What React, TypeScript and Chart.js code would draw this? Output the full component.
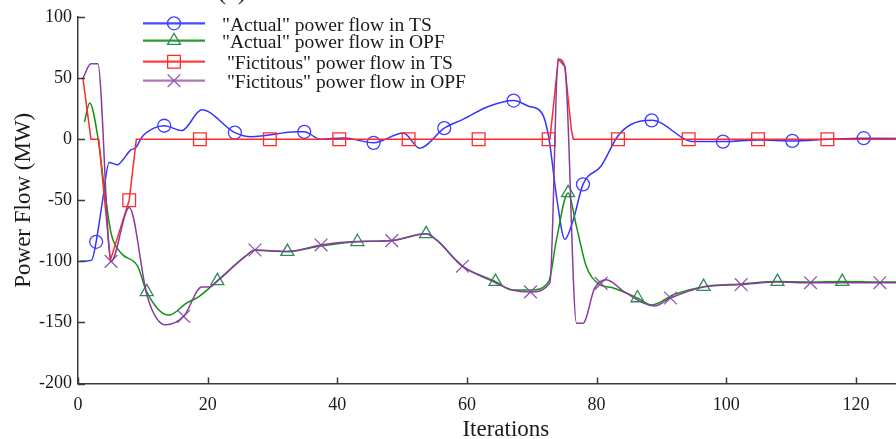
import React, { useEffect, useRef } from "react";
import { Chart, registerables } from "chart.js";

Chart.register(...registerables);

// ---------- data ----------
const xTickValues = [0, 20, 40, 60, 80, 100, 120];
const yTickValues = [-200, -150, -100, -50, 0, 50, 100];
const xTitle = "Iterations";
const yTitle = "Power Flow (MW)";
const seriesLabels = [
  "\"Actual\" power flow in TS",
  "\"Actual\" power flow in OPF",
  " \"Fictitous\" power flow in TS",
  " \"Fictitous\" power flow in OPF",
];

// "Actual" power flow in TS (blue)
const actualTsX = [0.3, 2.1, 2.8, 3.8, 4.8, 6.1, 6.9, 8.1, 8.9, 9.9, 11.7, 13.3, 16.0, 19.1, 24.2, 26.7, 33.9, 34.9, 37.4, 41.0, 45.6, 50.2, 52.7, 56.5, 59.3, 63.4, 67.2, 69.5, 71.6, 72.6, 73.9, 75.1, 76.4, 77.9, 80.7, 83.2, 85.3, 88.5, 95.0, 99.5, 105.1, 110.2, 115.8, 121.2, 132];
const actualTsY = [-100, -99, -84, -50, -19, -21, -17, -9, -7, 2, 9, 11, 7, 24, 5.4, 2, 6, 6, 0, 1, -3, 5, -7.4, 9, 16, 27, 31.6, 27, 21, 2, -50, -82, -66, -37, -22, 2, 12, 15.4, -2, -2, -0.6, -1.4, 0, 0.8, 0.3];
const actualTsMarkX = [2.8, 13.3, 24.2, 34.9, 45.6, 56.5, 67.2, 77.9, 88.5, 99.5, 110.2, 121.2];
const actualTsMarkY = [-84, 11, 5.4, 6, -3, 9, 31.6, -37, 15.4, -2, -1.4, 0.8];

// "Actual" power flow in OPF (green)
const actualOpfX = [1.0, 1.8, 3.05, 4.1, 5.1, 6.6, 9.2, 10.6, 14.0, 16.8, 18.6, 21.5, 25.8, 27.3, 32.3, 37.4, 43.1, 48.4, 53.7, 55.3, 59.3, 64.4, 67.0, 69.8, 72.6, 73.8, 75.6, 76.9, 78.4, 80.2, 82.7, 86.3, 88.5, 92.0, 96.5, 102.3, 107.9, 113.0, 117.9, 123.7, 132];
const actualOpfY = [14, 29.7, 2, -41.5, -77, -93, -104, -125, -144, -134, -129, -116, -96, -91, -92, -87.5, -84, -83, -77.5, -82.5, -104, -116.6, -123.5, -123.5, -116.6, -82.5, -44, -71.6, -104, -118, -122, -130, -135.7, -127, -120.7, -118.5, -116.6, -117, -116.6, -117, -117];
const actualOpfMarkX = [10.6, 21.5, 32.3, 43.1, 53.7, 64.4, 75.6, 86.3, 96.5, 107.9, 117.9];
const actualOpfMarkY = [-125, -116, -92, -84, -77.5, -116.6, -44, -130, -120.7, -116.6, -116.6];

// "Fictitous" power flow in TS (red)
const fictTsX = [0.76, 2.0, 3.2, 5.0, 7.9, 9.0, 72.8, 74.1, 75.1, 76.1, 76.4, 132];
const fictTsY = [50, 0, 0, -99, -50, 0, 0, 65.5, 59.5, 8, 0, 0];
const fictTsMarkX = [7.9, 18.8, 29.6, 40.3, 51.0, 61.8, 72.6, 83.3, 94.2, 104.9, 115.6];
const fictTsMarkY = [-50, 0, 0, 0, 0, 0, 0, 0, 0, 0, 0];

// "Fictitous" power flow in OPF (purple)
const fictOpfX = [0.76, 2.0, 3.05, 5.1, 7.9, 10.7, 13.5, 16.3, 19.1, 20.3, 21.5, 25.8, 27.3, 32.3, 37.5, 42.0, 48.4, 53.7, 55.3, 59.3, 63.4, 67.0, 69.8, 72.8, 74.1, 75.1, 76.9, 77.9, 79.7, 81.5, 84.3, 88.9, 91.4, 96.5, 102.3, 107.9, 113.0, 123.7, 132];
const fictOpfY = [50, 61.7, 61.7, -100, -56, -129, -152, -145, -121, -121, -116, -96, -90.7, -92, -86.6, -84, -83, -77.5, -82.5, -104, -115, -123.5, -125, -117.5, 65.5, 59.5, -150.7, -150.7, -122, -115, -125, -136.5, -130, -121, -119, -117, -117.5, -117.5, -117.5];
const fictOpfMarkX = [5.1, 16.3, 27.3, 37.5, 48.4, 59.3, 69.8, 80.7, 91.4, 102.3, 113.0, 123.7];
const fictOpfMarkY = [-100, -145, -90.7, -86.6, -83, -104, -125, -118, -130, -119, -117.5, -117.5];

// ---------- styling ----------
const FONT = "'Liberation Serif', 'Times New Roman', Times, serif";
const LINE = ["#3434ff", "#139213", "#ff2a2a", "#8a3c9e"];
const MARK = ["#4040ff", "#2e8c58", "#ff2b2b", "#8e58b2"];
const STYLE = ["circle", "triangle", "rect", "crossRot"];
const RADIUS = [6.5, 7.5, 9, 9];

function pts(xs: number[], ys: number[]) {
  return xs.map((x, i) => ({ x, y: ys[i] }));
}

function drawMarker(ctx: CanvasRenderingContext2D, style: string, x: number, y: number, r: number) {
  ctx.beginPath();
  if (style === "circle") {
    ctx.arc(x, y, r, 0, Math.PI * 2);
  } else if (style === "rect") {
    const s = r * Math.SQRT1_2;
    ctx.rect(x - s, y - s, 2 * s, 2 * s);
  } else if (style === "triangle") {
    let a = 0;
    ctx.moveTo(x + Math.sin(a) * r, y - Math.cos(a) * r);
    a += (2 * Math.PI) / 3;
    ctx.lineTo(x + Math.sin(a) * r, y - Math.cos(a) * r);
    a += (2 * Math.PI) / 3;
    ctx.lineTo(x + Math.sin(a) * r, y - Math.cos(a) * r);
    ctx.closePath();
  } else {
    const s = r * Math.SQRT1_2;
    ctx.moveTo(x - s, y - s);
    ctx.lineTo(x + s, y + s);
    ctx.moveTo(x - s, y + s);
    ctx.lineTo(x + s, y - s);
  }
  ctx.stroke();
}

const decor = {
  id: "decor",
  afterDatasetsDraw(chart: any) {
    const ctx: CanvasRenderingContext2D = chart.ctx;
    const { left, bottom } = chart.chartArea;
    const xs = chart.scales.x;
    const ys = chart.scales.y;
    ctx.save();
    // inward tick marks
    ctx.strokeStyle = "#3a3a3a";
    ctx.lineWidth = 1.5;
    xTickValues.forEach((v) => {
      const px = Math.round(xs.getPixelForValue(v)) + 0.5;
      ctx.beginPath();
      ctx.moveTo(px, bottom);
      ctx.lineTo(px, bottom - 6);
      ctx.stroke();
    });
    yTickValues.forEach((v) => {
      const py = Math.round(ys.getPixelForValue(v)) + 0.5;
      ctx.beginPath();
      ctx.moveTo(left, py);
      ctx.lineTo(left + 7, py);
      ctx.stroke();
    });
    // legend
    const rows = [23.3, 40.7, 61.7, 80.7];
    seriesLabels.forEach((label, i) => {
      const y = rows[i];
      ctx.strokeStyle = LINE[i];
      ctx.lineWidth = 2.2;
      ctx.globalAlpha = i === 3 ? 0.7 : 0.9;
      ctx.beginPath();
      ctx.moveTo(143, y);
      ctx.lineTo(205, y);
      ctx.stroke();
      ctx.globalAlpha = 1;
      ctx.strokeStyle = MARK[i];
      ctx.lineWidth = 1.3;
      drawMarker(ctx, STYLE[i], 174, y, RADIUS[i]);
      ctx.fillStyle = "#1a1a1a";
      ctx.font = `19.5px ${FONT}`;
      ctx.textAlign = "left";
      ctx.textBaseline = "alphabetic";
      ctx.fillText(label, 222, y + 7.5);
    });
    // clipped sub-figure caption at the very top
    ctx.fillStyle = "#1a1a1a";
    ctx.font = `26px ${FONT}`;
    ctx.textAlign = "center";
    ctx.fillText("(a)", 232, -1);
    ctx.restore();
  },
};

export default function App() {
  const ref = useRef<HTMLCanvasElement | null>(null);

  useEffect(() => {
    if (!ref.current) return;
    const lineSets = [
      pts(actualTsX, actualTsY),
      pts(actualOpfX, actualOpfY),
      pts(fictTsX, fictTsY),
      pts(fictOpfX, fictOpfY),
    ];
    const markSets = [
      pts(actualTsMarkX, actualTsMarkY),
      pts(actualOpfMarkX, actualOpfMarkY),
      pts(fictTsMarkX, fictTsMarkY),
      pts(fictOpfMarkX, fictOpfMarkY),
    ];
    const order = [4, 3, 2, 1];
    const datasets: any[] = [];
    lineSets.forEach((d, i) => {
      datasets.push({
        label: seriesLabels[i],
        data: d,
        borderColor: LINE[i],
        borderWidth: 1.5,
        pointRadius: 0,
        fill: false,
        tension: 0,
        cubicInterpolationMode: i === 2 ? "default" : "monotone",
        order: order[i],
      });
      datasets.push({
        label: seriesLabels[i] + " markers",
        data: markSets[i],
        showLine: false,
        pointStyle: STYLE[i],
        pointRadius: RADIUS[i],
        pointBorderColor: MARK[i],
        pointBackgroundColor: "rgba(0,0,0,0)",
        pointBorderWidth: 1.3,
        order: order[i],
      });
    });

    const chart = new Chart(ref.current, {
      type: "line",
      data: { datasets },
      plugins: [decor],
      options: {
        animation: false,
        responsive: false,
        devicePixelRatio: 1,
        layout: { padding: { top: 17, left: 0, right: 0, bottom: 0 } },
        plugins: { legend: { display: false }, tooltip: { enabled: false }, title: { display: false } },
        scales: {
          x: {
            type: "linear",
            min: 0,
            max: 132,
            afterBuildTicks: (scale: any) => {
              scale.ticks = xTickValues.map((v) => ({ value: v }));
            },
            afterFit: (scale: any) => {
              scale.height = 55.5;
            },
            grid: { display: false, drawTicks: false },
            border: { display: true, color: "#3a3a3a", width: 1.5 },
            ticks: { padding: 11, color: "#1a1a1a", font: { family: FONT, size: 18 }, maxRotation: 0 },
            title: {
              display: true,
              text: xTitle,
              color: "#1a1a1a",
              font: { family: FONT, size: 23, lineHeight: 0.8 },
              padding: 0,
            },
          },
          y: {
            type: "linear",
            min: -200,
            max: 100,
            afterBuildTicks: (scale: any) => {
              scale.ticks = yTickValues.map((v) => ({ value: v }));
            },
            afterFit: (scale: any) => {
              scale.width = 78;
            },
            grid: { display: false, drawTicks: false },
            border: { display: true, color: "#3a3a3a", width: 1.5 },
            ticks: { padding: 6, color: "#1a1a1a", font: { family: FONT, size: 18 } },
            title: {
              display: true,
              text: yTitle,
              color: "#1a1a1a",
              font: { family: FONT, size: 23, lineHeight: 1 },
              padding: { top: 12.5, bottom: 0 },
            },
          },
        },
      },
    });
    return () => chart.destroy();
  }, []);

  return (
    <div
      style={{
        position: "fixed",
        left: 0,
        top: 0,
        width: 896,
        height: 439,
        overflow: "hidden",
        background: "#fff",
      }}
    >
      <canvas ref={ref} width={944} height={439} style={{ display: "block" }} />
    </div>
  );
}
